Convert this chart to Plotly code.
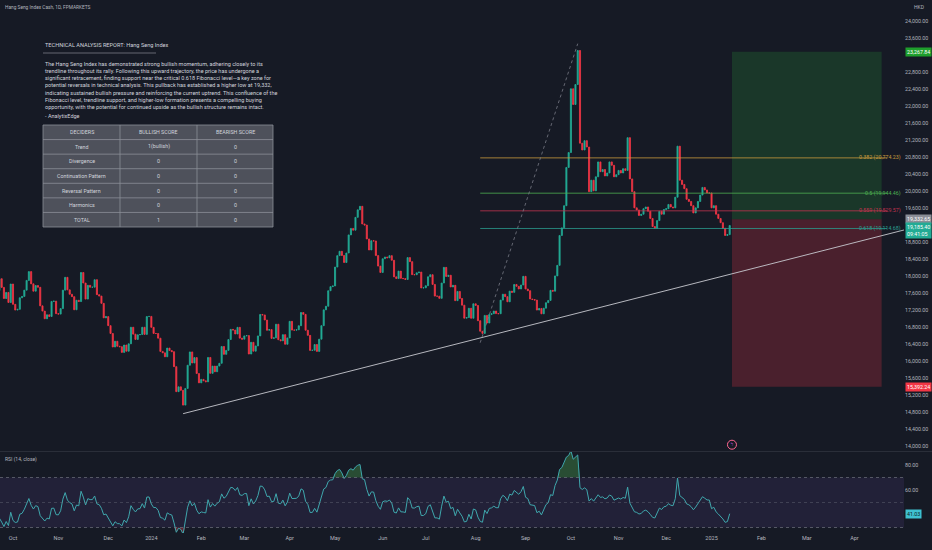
import numpy as np
import pandas as pd
import plotly.graph_objects as go

# ---------------------------------------------------------------------------
# Data (daily closes, Hang Seng Index Cash CFD)
# ---------------------------------------------------------------------------
hk_holidays = ["2023-09-08", "2023-10-02", "2023-10-23", "2023-12-25", "2023-12-26",
               "2024-01-01", "2024-02-12", "2024-02-13", "2024-03-29", "2024-04-01",
               "2024-04-04", "2024-05-01", "2024-05-15", "2024-06-10", "2024-07-01",
               "2024-09-18", "2024-10-01", "2024-10-11", "2024-12-25", "2024-12-26",
               "2025-01-01"]

close_2023_08 = [18773, 18581, 18329, 18326, 17950, 17623, 17792, 17846, 18212, 17956,
                 18130, 18484, 18482, 18382]
close_2023_09 = [18382, 18844, 18456, 18450, 18202, 18096, 18026, 18009, 18047, 18182,
                 17930, 17998, 17885, 17655, 17933, 17729, 17467, 17611, 17374, 17809]
close_2023_10 = [17331, 17196, 17213, 17485, 17517, 17664, 17893, 18100, 17813, 17640,
                 17773, 17732, 17295, 17172, 16992, 17085, 17045, 17399, 17406, 17112]
close_2023_11 = [17101, 17231, 17664, 17966, 17671, 17568, 17511, 17203, 17427, 17396,
                 18079, 17832, 17454, 17778, 17733, 17734, 17910, 17559, 17525, 17354,
                 17013, 17042]
close_2023_12 = [16830, 16646, 16327, 16463, 16345, 16334, 16201, 16374, 16228, 16403,
                 16792, 16630, 16506, 16613, 16621, 16792, 16624, 17043, 17047]
close_2024_01 = [16789, 16646, 16645, 16535, 16224, 16190, 16098, 16302, 16244, 16217,
                 15866, 15277, 15391, 15309, 14961, 15353, 15899, 16212, 15952, 16078,
                 15703, 15485]
close_2024_02 = [15566, 15533, 15510, 16082, 15708, 15878, 15746, 15879, 15944, 16340,
                 16155, 16248, 16503, 16742, 16726, 16634, 16790, 16536, 16511]
close_2024_03 = [16589, 16595, 16162, 16438, 16229, 16353, 16588, 17093, 17082, 16962,
                 16721, 16737, 16529, 16543, 16863, 16499, 16473, 16618, 16392, 16541]
close_2024_04 = [16931, 16725, 16724, 16733, 16828, 17139, 17095, 16722, 16601, 16248,
                 16251, 16386, 16224, 16511, 16829, 17201, 17285, 17651, 17747, 17763]
close_2024_05 = [18207, 18476, 18578, 18479, 18314, 18538, 18964, 19116, 19074, 19376,
                 19553, 19636, 19221, 19195, 18868, 18609, 18827, 18821, 18477, 18230,
                 18080]
close_2024_06 = [18403, 18444, 18425, 18476, 18367, 17977, 17937, 18112, 17942, 17936,
                 17915, 18430, 18335, 18029, 18027, 18072, 18089, 17716, 17719]
close_2024_07 = [17769, 17979, 18028, 17799, 17524, 17523, 17471, 17832, 18200, 17985,
                 18015, 17739, 17778, 17417, 17635, 17469, 17311, 17005, 17021, 17238,
                 17003, 17344]
close_2024_08 = [17304, 16946, 16698, 16647, 17071, 16891, 17090, 17111, 17174, 17113,
                 17110, 17430, 17569, 17511, 17391, 17641, 17612, 17798, 17754, 17692,
                 17786, 17989]
close_2024_09 = [17691, 17651, 17457, 17444, 17430, 17196, 17234, 17108, 17240, 17369,
                 17422, 17660, 17640, 17999, 18247, 18950, 19129, 19650, 20550, 20900]
close_2024_10 = [22400, 22030, 22500, 23300, 21120, 20960, 21180, 21030, 19980, 20250,
                 20000, 20330, 20680, 20450, 20500, 20350, 20420, 20680, 20600, 20330,
                 20380]
close_2024_11 = [20480, 20420, 20520, 20480, 21250, 20280, 19980, 19600, 19550, 19420,
                 19450, 19580, 19620, 19520, 19350, 19160, 19120, 19300, 19520, 19450,
                 19560]
close_2024_12 = [19580, 19680, 19620, 19600, 19850, 21050, 20250, 20150, 20050, 19800,
                 19750, 19650, 19480, 19600, 19750, 19900, 20080, 20020, 19950, 19950]
close_2025_01 = [19600, 19650, 19450, 19350, 19250, 19120, 18950, 18970, 19185.40]

# drawings
trend_dates = ["2024-01-22", "2024-08-05"]
trend_prices = [14760, 16540]
fib_dates = ["2024-08-05", "2024-10-07"]
fib_low, fib_high = 16428.44, 23460.47
fib_levels = [0.382, 0.5, 0.559, 0.618]
fib_colors = ["#c99a3c", "#4caf50", "#c2334f", "#2a9d8f"]
pos_dates = ["2025-01-15", "2025-04-17"]
entry_price, target_price, stop_price = 19332.65, 23267.84, 15392.24
bar_countdown = "09:41:05"
event_date, event_price = "2025-01-15", 14030

table_header = ["DECIDERS", "BULLISH SCORE", "BEARISH SCORE"]
deciders = ["Trend", "Divergence", "Continuation Pattern", "Reversal Pattern",
            "Harmonics", "TOTAL"]
bullish_score = ["1(bullish)", "0", "0", "0", "0", "1"]
bearish_score = ["0", "0", "0", "0", "0", "0"]

report_title = "TECHNICAL ANALYSIS REPORT: Hang Seng Index"
report_lines = [
    "The Hang Seng Index has demonstrated strong bullish momentum, adhering closely to its",
    "trendline throughout its rally. Following this upward trajectory, the price has undergone a",
    "significant retracement, finding support near the critical 0.618 Fibonacci level\u2014a key zone for",
    "potential reversals in technical analysis. This pullback has established a higher low at 19,332,",
    "indicating sustained bullish pressure and reinforcing the current uptrend. This confluence of the",
    "Fibonacci level, trendline support, and higher-low formation presents a compelling buying",
    "opportunity, with the potential for continued upside as the bullish structure remains intact.",
]
report_author = "- AnalytixEdge"

# ---------------------------------------------------------------------------
# Build series
# ---------------------------------------------------------------------------
closes = (close_2023_08 + close_2023_09 + close_2023_10 + close_2023_11 + close_2023_12
          + close_2024_01 + close_2024_02 + close_2024_03 + close_2024_04 + close_2024_05
          + close_2024_06 + close_2024_07 + close_2024_08 + close_2024_09 + close_2024_10
          + close_2024_11 + close_2024_12 + close_2025_01)
sessions = pd.bdate_range("2023-08-14", "2025-01-14")
sessions = sessions[~sessions.isin(pd.to_datetime(hk_holidays))]
assert len(sessions) == len(closes)
future = pd.bdate_range("2025-01-15", "2025-05-30")
all_days = sessions.append(future)
pos = {d: i for i, d in enumerate(all_days)}


def bar(d):
    return pos[pd.Timestamp(d)]


n = len(closes)
bar_x = np.arange(n)
close_s = pd.Series(closes, dtype=float)
opens = close_s.shift(1).fillna(close_s.iloc[0])
highs = np.maximum(opens, close_s)
lows = np.minimum(opens, close_s)

# RSI(14) with Wilder smoothing
delta = close_s.diff()
gain = delta.clip(lower=0).ewm(alpha=1 / 14, adjust=False).mean()
loss = (-delta.clip(upper=0)).ewm(alpha=1 / 14, adjust=False).mean()
rsi = 100 - 100 / (1 + gain / loss)

# month ticks
tick_vals, tick_text = [], []
prev = None
for i, d in enumerate(all_days):
    if prev is None or d.month != prev.month:
        tick_vals.append(i)
        tick_text.append(str(d.year) if d.month == 1 else d.strftime("%b"))
    prev = d

# ---------------------------------------------------------------------------
# Geometry / style
# ---------------------------------------------------------------------------
W, H = 932, 550
PLOT_W, PLOT_H = 904, 533
BAR_PX = 2.268
i0 = bar("2023-10-03")
x_range = [i0 - 13 / BAR_PX, i0 + (PLOT_W - 13) / BAR_PX]
main_bot = 1 - 451 / PLOT_H
rsi_top = 1 - 452 / PLOT_H

BG = "#161a25"
TXT = "#d1d4dc"
AX = "#b2b5be"
UP, DOWN = "#22ab94", "#f23645"
FONT = "Roboto"


def py(pix):
    return 1 - pix / PLOT_H


def pxp(pix):
    return pix / PLOT_W


fig = go.Figure()
fig.add_trace(go.Candlestick(
    x=bar_x, open=opens, high=highs, low=lows, close=close_s,
    increasing=dict(line=dict(color=UP, width=0.8), fillcolor=UP),
    decreasing=dict(line=dict(color=DOWN, width=0.8), fillcolor=DOWN),
    whiskerwidth=0, hoverinfo="skip", showlegend=False, xaxis="x", yaxis="y"))

# RSI pane
fig.add_trace(go.Scatter(x=bar_x, y=np.full(n, 70.0), mode="lines", line=dict(width=0),
                         hoverinfo="skip", showlegend=False, xaxis="x2", yaxis="y2"))
fig.add_trace(go.Scatter(x=bar_x, y=np.maximum(rsi, 70), mode="lines", line=dict(width=0),
                         fill="tonexty", fillcolor="rgba(76,175,80,0.35)",
                         hoverinfo="skip", showlegend=False, xaxis="x2", yaxis="y2"))
fig.add_trace(go.Scatter(x=bar_x, y=np.full(n, 30.0), mode="lines", line=dict(width=0),
                         hoverinfo="skip", showlegend=False, xaxis="x2", yaxis="y2"))
fig.add_trace(go.Scatter(x=bar_x, y=np.minimum(rsi, 30), mode="lines", line=dict(width=0),
                         fill="tonexty", fillcolor="rgba(242,54,69,0.35)",
                         hoverinfo="skip", showlegend=False, xaxis="x2", yaxis="y2"))
fig.add_trace(go.Scatter(x=bar_x, y=rsi, mode="lines", line=dict(color="#3fa7ad", width=1),
                         hoverinfo="skip", showlegend=False, xaxis="x2", yaxis="y2"))

# bolt event marker
fig.add_trace(go.Scatter(x=[bar(event_date)], y=[event_price], mode="markers+text",
                         marker=dict(symbol="circle-open", size=9,
                                     line=dict(color="#c94fe0", width=1)),
                         text=["\u03df"], textposition="middle center",
                         textfont=dict(size=6, color="#c94fe0"),
                         hoverinfo="skip", showlegend=False, xaxis="x", yaxis="y"))

shapes = []
ann = []


def note(text, x, y, size=5.5, color=TXT, xanchor="left", yanchor="middle", **kw):
    ann.append(dict(text=text, x=x, y=y, xref=kw.pop("xref", "paper"),
                    yref=kw.pop("yref", "paper"), xanchor=xanchor, yanchor=yanchor,
                    showarrow=False, font=dict(family=FONT, size=size, color=color),
                    align="left", **kw))


# position boxes
p0, p1 = bar(pos_dates[0]), bar(pos_dates[1])
shapes.append(dict(type="rect", xref="x", yref="y", x0=p0, x1=p1, y0=entry_price,
                   y1=target_price, fillcolor="rgba(40,160,60,0.22)", line=dict(width=0),
                   layer="below"))
shapes.append(dict(type="rect", xref="x", yref="y", x0=p0, x1=p1, y0=stop_price,
                   y1=entry_price, fillcolor="rgba(242,54,69,0.24)", line=dict(width=0),
                   layer="below"))
# fib
f0, f1 = bar(fib_dates[0]), bar(fib_dates[1])
fib_prices = [fib_high - lv * (fib_high - fib_low) for lv in fib_levels]
for pr, col in zip(fib_prices, fib_colors):
    shapes.append(dict(type="line", xref="x", yref="y", x0=f0, x1=x_range[1] - 17 / BAR_PX,
                       y0=pr, y1=pr, line=dict(color=col, width=0.8)))
shapes.append(dict(type="line", xref="x", yref="y", x0=f0, x1=f1, y0=fib_low, y1=fib_high,
                   line=dict(color="#787b86", width=0.8, dash="dot")))
# trendline, extended right
t0, t1 = bar(trend_dates[0]), bar(trend_dates[1])
slope = (trend_prices[1] - trend_prices[0]) / (t1 - t0)
shapes.append(dict(type="line", xref="x", yref="y", x0=t0, y0=trend_prices[0],
                   x1=x_range[1], y1=trend_prices[0] + slope * (x_range[1] - t0),
                   line=dict(color="#c8cad0", width=0.9)))
# RSI band
shapes.append(dict(type="rect", xref="paper", yref="y2", x0=0, x1=1, y0=30, y1=70,
                   fillcolor="rgba(126,87,194,0.12)", line=dict(width=0), layer="below"))
for lvl, col in [(70, "rgba(120,123,134,0.8)"), (30, "rgba(120,123,134,0.8)"),
                 (50, "rgba(120,123,134,0.45)")]:
    shapes.append(dict(type="line", xref="paper", yref="y2", x0=0, x1=1, y0=lvl, y1=lvl,
                       line=dict(color=col, width=0.8, dash="dot")))
# pane separator and report underline
shapes.append(dict(type="line", xref="paper", yref="paper", x0=0, x1=W / PLOT_W,
                   y0=py(451.5), y1=py(451.5), line=dict(color="#2a2e39", width=1)))
shapes.append(dict(type="line", xref="paper", yref="paper", x0=pxp(43), x1=pxp(156),
                   y0=py(53), y1=py(53), line=dict(color="#787b86", width=0.8)))

# decider table drawn as cells
col_edges = [43, 120, 197, 273]
tab_top, tab_bot = 125, 227
rows = [table_header] + [list(r) for r in zip(deciders, bullish_score, bearish_score)]
row_h = (tab_bot - tab_top) / len(rows)
shapes.append(dict(type="rect", xref="paper", yref="paper", x0=pxp(col_edges[0]),
                   x1=pxp(col_edges[-1]), y0=py(tab_bot), y1=py(tab_top),
                   fillcolor="#4e515b", line=dict(color="#8c8f98", width=0.8)))
for r in range(1, len(rows)):
    yy = py(tab_top + r * row_h)
    shapes.append(dict(type="line", xref="paper", yref="paper", x0=pxp(col_edges[0]),
                       x1=pxp(col_edges[-1]), y0=yy, y1=yy,
                       line=dict(color="#8c8f98", width=0.8)))
for c in col_edges[1:-1]:
    shapes.append(dict(type="line", xref="paper", yref="paper", x0=pxp(c), x1=pxp(c),
                       y0=py(tab_bot), y1=py(tab_top), line=dict(color="#8c8f98", width=0.8)))
for r, row in enumerate(rows):
    for c, txt in enumerate(row):
        note(txt, pxp((col_edges[c] + col_edges[c + 1]) / 2), py(tab_top + (r + 0.5) * row_h),
             size=5.3, xanchor="center")

note("Hang Seng Index Cash, 1D, FPMARKETS", pxp(3), py(7), size=4.8, color=AX)
note("HKD", 1, py(7), size=5, color=AX, xshift=8)
note(report_title, pxp(43), py(45), size=5.6)
note("<br>".join(report_lines), pxp(43), py(59), size=5.5, yanchor="top")
note(report_author, pxp(43), py(116), size=5.5)
note("RSI (14, close)", pxp(3), py(459), size=5, color=AX)

for lv, pr, col in zip(fib_levels, fib_prices, fib_colors):
    note(f"{lv:g} ({pr:,.2f})", x_range[1] - 1 / BAR_PX, pr, size=5.3, color=col,
         xanchor="right", xref="x", yref="y")

for val, bg, fg in [(target_price, "#1e9e2c", "#ffffff"), (entry_price, "#8a8d96", "#ffffff"),
                    (stop_price, "#f23645", "#ffffff")]:
    note(f"{val:,.2f}", 1, val, size=5.3, color=fg, xref="paper", yref="y", bgcolor=bg,
         borderpad=1, xshift=1)
note(f"{closes[-1]:,.2f}<br>{bar_countdown}", 1, closes[-1], size=5.3, color="#ffffff",
     xref="paper", yref="y", bgcolor=UP, borderpad=1, xshift=1, yanchor="top", yshift=3)
note(f"{rsi.iloc[-1]:.2f}", 1, rsi.iloc[-1], size=5.3, color="#0b1a1f", xref="paper",
     yref="y2", bgcolor="#3fc1d0", borderpad=1, xshift=1)

price_ticks = [p for p in range(14000, 24001, 400) if p not in (23200, 19200)]

fig.update_layout(
    width=W, height=H, paper_bgcolor=BG, plot_bgcolor=BG,
    margin=dict(l=0, r=W - PLOT_W, t=0, b=H - PLOT_H),
    font=dict(family=FONT, size=6, color=AX),
    showlegend=False, shapes=shapes, annotations=ann,
    xaxis=dict(domain=[0, 1], range=x_range, anchor="y", showticklabels=False,
               tickvals=tick_vals, showgrid=False, zeroline=False,
               rangeslider=dict(visible=False), fixedrange=True),
    xaxis2=dict(domain=[0, 1], range=x_range, anchor="y2", matches="x",
                tickvals=tick_vals, ticktext=tick_text, showgrid=False,
                zeroline=False, tickfont=dict(size=5.5, color=AX), ticks=""),
    yaxis=dict(domain=[main_bot, 1], range=[13882, 24487], side="right",
               tickvals=price_ticks, tickformat=",.2f", showgrid=False,
               zeroline=False, tickfont=dict(size=5.3, color=AX), ticks=""),
    yaxis2=dict(domain=[0, rsi_top], range=[25.6, 90.4], side="right", tickvals=[80, 60],
                tickformat=".2f", showgrid=False, zeroline=False,
                tickfont=dict(size=5.3, color=AX), ticks=""),
)

fig.write_html("out.html", config={"displayModeBar": False},
               post_script="document.body.style.margin='0';document.body.style.overflow='hidden';")
